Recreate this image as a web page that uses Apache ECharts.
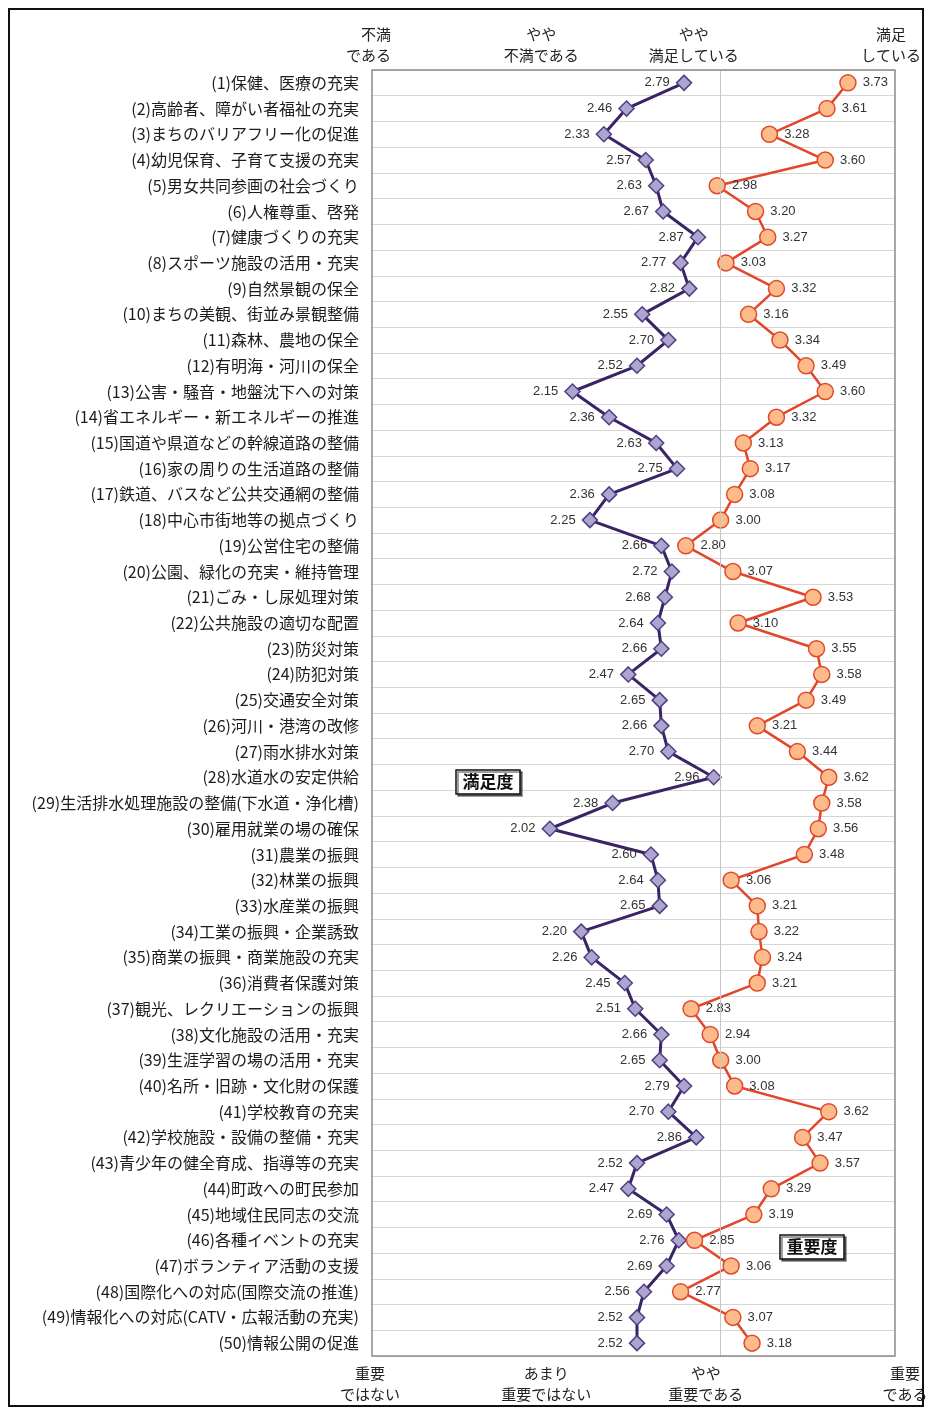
<!DOCTYPE html>
<html>
<head>
<meta charset="utf-8">
<script src="https://cdn.jsdelivr.net/npm/echarts@6/dist/echarts.min.js"></script>
<style>
html,body{margin:0;padding:0;background:#fff;}
#chart{width:933px;height:1412px;}
</style>
</head>
<body>
<div id="chart"></div>
<script>
const categories = [
  '(1)保健、医療の充実',
  '(2)高齢者、障がい者福祉の充実',
  '(3)まちのバリアフリー化の促進',
  '(4)幼児保育、子育て支援の充実',
  '(5)男女共同参画の社会づくり',
  '(6)人権尊重、啓発',
  '(7)健康づくりの充実',
  '(8)スポーツ施設の活用・充実',
  '(9)自然景観の保全',
  '(10)まちの美観、街並み景観整備',
  '(11)森林、農地の保全',
  '(12)有明海・河川の保全',
  '(13)公害・騒音・地盤沈下への対策',
  '(14)省エネルギー・新エネルギーの推進',
  '(15)国道や県道などの幹線道路の整備',
  '(16)家の周りの生活道路の整備',
  '(17)鉄道、バスなど公共交通網の整備',
  '(18)中心市街地等の拠点づくり',
  '(19)公営住宅の整備',
  '(20)公園、緑化の充実・維持管理',
  '(21)ごみ・し尿処理対策',
  '(22)公共施設の適切な配置',
  '(23)防災対策',
  '(24)防犯対策',
  '(25)交通安全対策',
  '(26)河川・港湾の改修',
  '(27)雨水排水対策',
  '(28)水道水の安定供給',
  '(29)生活排水処理施設の整備(下水道・浄化槽)',
  '(30)雇用就業の場の確保',
  '(31)農業の振興',
  '(32)林業の振興',
  '(33)水産業の振興',
  '(34)工業の振興・企業誘致',
  '(35)商業の振興・商業施設の充実',
  '(36)消費者保護対策',
  '(37)観光、レクリエーションの振興',
  '(38)文化施設の活用・充実',
  '(39)生涯学習の場の活用・充実',
  '(40)名所・旧跡・文化財の保護',
  '(41)学校教育の充実',
  '(42)学校施設・設備の整備・充実',
  '(43)青少年の健全育成、指導等の充実',
  '(44)町政への町民参加',
  '(45)地域住民同志の交流',
  '(46)各種イベントの充実',
  '(47)ボランティア活動の支援',
  '(48)国際化への対応(国際交流の推進)',
  '(49)情報化への対応(CATV・広報活動の充実)',
  '(50)情報公開の促進'
];

const satisfaction = [
  2.79, 2.46, 2.33, 2.57, 2.63, 2.67, 2.87, 2.77, 2.82, 2.55,
  2.70, 2.52, 2.15, 2.36, 2.63, 2.75, 2.36, 2.25, 2.66, 2.72,
  2.68, 2.64, 2.66, 2.47, 2.65, 2.66, 2.70, 2.96, 2.38, 2.02,
  2.60, 2.64, 2.65, 2.20, 2.26, 2.45, 2.51, 2.66, 2.65, 2.79,
  2.70, 2.86, 2.52, 2.47, 2.69, 2.76, 2.69, 2.56, 2.52, 2.52
];

const importance = [
  3.73, 3.61, 3.28, 3.60, 2.98, 3.20, 3.27, 3.03, 3.32, 3.16,
  3.34, 3.49, 3.60, 3.32, 3.13, 3.17, 3.08, 3.00, 2.80, 3.07,
  3.53, 3.10, 3.55, 3.58, 3.49, 3.21, 3.44, 3.62, 3.58, 3.56,
  3.48, 3.06, 3.21, 3.22, 3.24, 3.21, 2.83, 2.94, 3.00, 3.08,
  3.62, 3.47, 3.57, 3.29, 3.19, 2.85, 3.06, 2.77, 3.07, 3.18
];

const tickValues = [1, 2, 3, 4];
const satTickLabels = ['不満\nである', 'やや\n不満である', 'やや\n満足している', '満足\nしている'];
const impTickLabels = ['重要\nではない', 'あまり\n重要ではない', 'やや\n重要である', '重要\nである'];
const seriesNames = ['満足度', '重要度'];
const referenceValue = 3;

const FONT = '"Noto Sans CJK JP", "Noto Sans", sans-serif';
const chart = echarts.init(document.getElementById('chart'), null, {renderer: 'canvas'});

const option = {
  backgroundColor: '#ffffff',
  animation: false,
  textStyle: {fontFamily: FONT},
  grid: {left: 372, right: 38, top: 70, bottom: 56, containLabel: false},
  xAxis: {
    type: 'value', min: 1, max: 4, interval: 1,
    axisLine: {show: false}, axisTick: {show: false}, axisLabel: {show: false},
    splitLine: {show: false}
  },
  yAxis: {
    type: 'category', data: categories, inverse: true, boundaryGap: true,
    axisLine: {show: false}, axisTick: {show: false},
    axisLabel: {color: '#1c1c1c', fontSize: 16, fontFamily: FONT, margin: 13, interval: 0},
    splitLine: {show: true, interval: 0, lineStyle: {color: '#d6d6d6', width: 1}}
  },
  series: [
    {
      name: seriesNames[0], type: 'line', data: satisfaction,
      symbol: 'diamond', symbolSize: 15,
      lineStyle: {color: '#3a2366', width: 3},
      itemStyle: {color: '#aca5d0', borderColor: '#4f3f80', borderWidth: 1.5},
      label: {show: true, position: 'left', distance: 6, color: '#333', fontSize: 13,
        fontFamily: 'Liberation Sans, Arial, sans-serif',
        formatter: p => p.value.toFixed(2)},
      markLine: {
        silent: true, symbol: 'none', label: {show: false},
        lineStyle: {color: '#c6c6c6', width: 1, type: 'solid'},
        data: [{xAxis: referenceValue}]
      },
      z: 3
    },
    {
      name: seriesNames[1], type: 'line', data: importance,
      symbol: 'circle', symbolSize: 16,
      lineStyle: {color: '#e2462b', width: 2.5},
      itemStyle: {color: '#fdbb8c', borderColor: '#e04a2a', borderWidth: 1.5},
      label: {show: true, position: 'right', distance: 6, color: '#333', fontSize: 13,
        fontFamily: 'Liberation Sans, Arial, sans-serif',
        formatter: p => p.value.toFixed(2)},
      z: 4
    }
  ]
};
chart.setOption(option);

// tick label placement (computed from the axis scale)
const topOff = [{dx: 19, align: 'right'}, {dx: -5, align: 'center'}, {dx: -27, align: 'center'}, {dx: -4, align: 'center'}];
const botOff = [{dx: -2, align: 'center'}, {dx: 0, align: 'center'}, {dx: -15, align: 'center'}, {dx: 10, align: 'center'}];
const gridTop = 70, gridBottom = 1412 - 56;
const graphics = [];
tickValues.forEach((v, i) => {
  const px = chart.convertToPixel({xAxisIndex: 0}, v);
  graphics.push({
    type: 'text', x: px + topOff[i].dx, y: gridTop - 46,
    style: {text: satTickLabels[i], fill: '#222', font: '15px ' + FONT,
      textAlign: topOff[i].align, textVerticalAlign: 'top', lineHeight: 21}
  });
  graphics.push({
    type: 'text', x: px + botOff[i].dx, y: gridBottom + 7,
    style: {text: impTickLabels[i], fill: '#222', font: '15px ' + FONT,
      textAlign: botOff[i].align, textVerticalAlign: 'top', lineHeight: 21}
  });
});
// plot frame
graphics.push({
  type: 'rect', shape: {x: 372, y: gridTop, width: 933 - 38 - 372, height: gridBottom - gridTop},
  style: {fill: 'none', stroke: '#8a8a8a', lineWidth: 1.5}, z: 10
});
// outer frame
graphics.push({
  type: 'rect', shape: {x: 9, y: 9, width: 914, height: 1397},
  style: {fill: 'none', stroke: '#111', lineWidth: 2}, z: 10
});
// series name boxes
function nameBox(text, cx, cy) {
  graphics.push({
    type: 'rect', shape: {x: cx - 32, y: cy - 12, width: 64, height: 24},
    style: {fill: '#fff', stroke: '#111', lineWidth: 1.5, shadowColor: 'rgba(0,0,0,0.5)', shadowOffsetX: 2, shadowOffsetY: 2}, z: 20
  });
  graphics.push({
    type: 'text', x: cx, y: cy,
    style: {text: text, fill: '#111', font: 'bold 17px ' + FONT, textAlign: 'center', textVerticalAlign: 'middle'}, z: 21
  });
}
nameBox(seriesNames[0], 488, 782);
nameBox(seriesNames[1], 812, 1247);
chart.setOption({graphic: graphics});
</script>
</body>
</html>
